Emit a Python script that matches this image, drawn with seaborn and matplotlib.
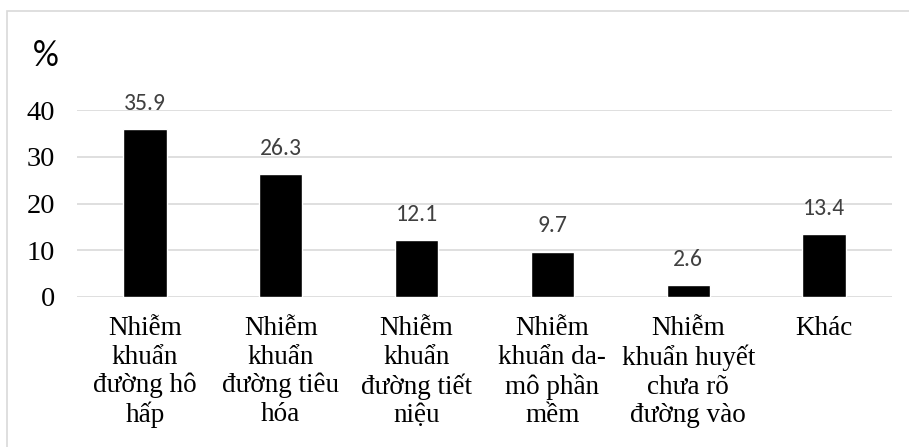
import matplotlib
matplotlib.use("Agg")
import matplotlib.pyplot as plt
import seaborn as sns
from matplotlib.patches import Rectangle
from matplotlib import font_manager as fm

categories = [
    "Nhiễm\nkhuẩn\nđường hô\nhấp",
    "Nhiễm\nkhuẩn\nđường tiêu\nhóa",
    "Nhiễm\nkhuẩn\nđường tiết\nniệu",
    "Nhiễm\nkhuẩn da-\nmô phần\nmềm",
    "Nhiễm\nkhuẩn huyết\nchưa rõ\nđường vào",
    "Khác",
]
values = [35.9, 26.3, 12.1, 9.7, 2.6, 13.4]
yticks = [0, 10, 20, 30, 40]

sns.set_theme(style="white")
names = {f.name for f in fm.fontManager.ttflist}
serif = "Liberation Serif"
sans = "Carlito" if "Carlito" in names else "Lato"
plt.rcParams["font.family"] = "serif"
plt.rcParams["font.serif"] = [serif, "DejaVu Serif"]

W, H = 909, 447
fig = plt.figure(figsize=(W / 100, H / 100), dpi=100)
ax = fig.add_axes([77 / W, 1 - 297 / H, (892 - 77) / W, (297 - 110) / H])

sns.barplot(x=list(range(len(values))), y=values, color="black", width=0.32,
            saturation=1, ax=ax)

ax.tick_params(axis="y", length=0, pad=16)
ax.tick_params(axis="x", length=0, pad=14)
ax.set_xlim(-0.5, len(values) - 0.5)
ax.set_ylim(0, 40)
ax.set_yticks(yticks)
ax.set_yticklabels([str(t) for t in yticks], fontsize=20.5, color="black",
                   fontfamily=serif)
ax.set_xticks(range(len(categories)))
ax.set_xticklabels(categories, fontsize=19.5, color="black", linespacing=1.17,
                   va="top", fontfamily=serif)
for s in ax.spines.values():
    s.set_visible(False)
ax.yaxis.grid(True, color="#d9d9d9", linewidth=1.2)
ax.set_axisbelow(True)
ax.set_xlabel("")
ax.set_ylabel("")

for i, v in enumerate(values):
    ax.annotate(f"{v:.1f}", (i, v), xytext=(0, 11), textcoords="offset points",
                ha="center", va="bottom", fontsize=17, color="#404040",
                fontfamily=sans, annotation_clip=False)

fig.text(33 / W, 1 - 66 / H, "%", fontsize=26, color="black",
         fontfamily=sans, ha="left", va="baseline")

fig.patches.append(Rectangle((7 / W, -0.1), 1.2, 1 - 11 / H + 0.1,
                             transform=fig.transFigure, fill=False,
                             edgecolor="#d9d9d9", linewidth=1.2))

fig.savefig("out.png", dpi=100)
